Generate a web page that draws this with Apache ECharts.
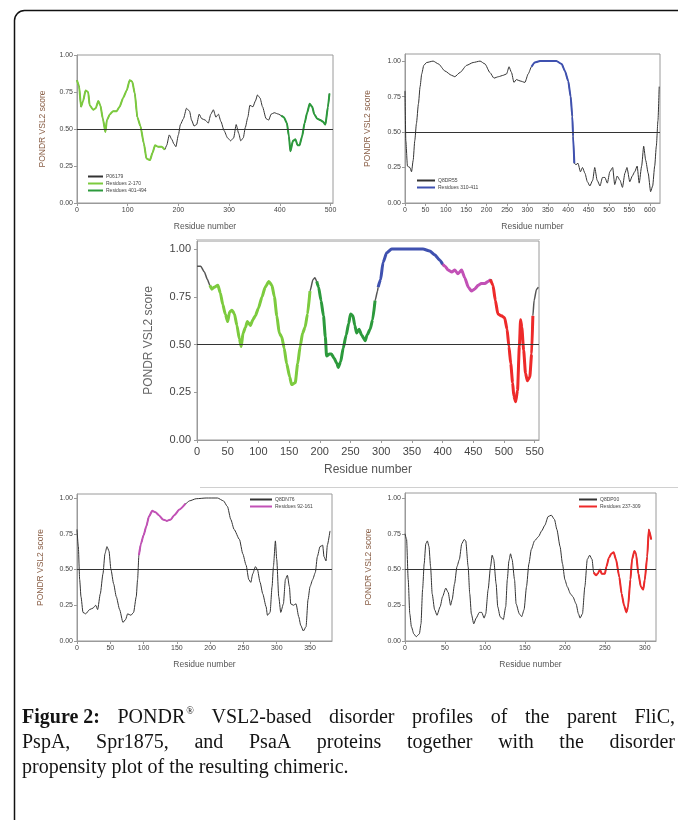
<!DOCTYPE html>
<html>
<head>
<meta charset="utf-8">
<script src="https://cdn.jsdelivr.net/npm/echarts@6/dist/echarts.min.js"></script>
<style>
  html, body { margin: 0; padding: 0; background: #fff; }
  #chart { width: 678px; height: 820px; }
</style>
</head>
<body>
<div id="chart"></div>
<script>
// tick values
const scoreTicks = [0, 0.25, 0.5, 0.75, 1];
const flicTicks = [0, 100, 200, 300, 400, 500];
const pspaTicks = [0, 50, 100, 150, 200, 250, 300, 350, 400, 450, 500, 550, 600];
const chimTicks = [0, 50, 100, 150, 200, 250, 300, 350, 400, 450, 500, 550];
const sprTicks = [0, 50, 100, 150, 200, 250, 300, 350];
const psaaTicks = [0, 50, 100, 150, 200, 250, 300];

// FliC (P06179) profile, [residue, score]
const flicScore = [[0,0.83],[4,0.79],[8,0.65],[12,0.69],[17,0.76],[22,0.75],[25,0.66],[32,0.63],[37,0.64],[42,0.69],[46,0.66],[51,0.57],[56,0.48],[59,0.56],[65,0.60],[71,0.62],[78,0.62],[84,0.65],[91,0.71],[98,0.76],[104,0.83],[109,0.82],[114,0.74],[119,0.58],[125,0.52],[132,0.40],[137,0.30],[144,0.29],[149,0.34],[154,0.39],[160,0.38],[167,0.38],[173,0.36],[177,0.39],[182,0.46],[187,0.43],[191,0.40],[195,0.38],[200,0.46],[204,0.53],[210,0.57],[216,0.64],[222,0.62],[226,0.56],[231,0.52],[236,0.53],[241,0.60],[246,0.57],[253,0.56],[259,0.54],[264,0.60],[269,0.63],[274,0.58],[279,0.60],[284,0.55],[290,0.49],[297,0.44],[303,0.42],[309,0.44],[314,0.53],[319,0.47],[323,0.42],[328,0.44],[332,0.51],[337,0.58],[341,0.66],[347,0.65],[352,0.69],[356,0.73],[361,0.71],[366,0.65],[373,0.57],[378,0.56],[383,0.60],[389,0.61],[398,0.60],[403,0.59],[408,0.58],[414,0.54],[418,0.45],[421,0.35],[426,0.42],[431,0.43],[435,0.39],[439,0.39],[444,0.45],[449,0.54],[454,0.61],[459,0.67],[464,0.65],[468,0.60],[474,0.57],[480,0.56],[485,0.55],[490,0.53],[495,0.65],[498,0.74]];
const flicNames = ['P06179', 'Residues 2-170', 'Residues 401-494'];
const flicRanges = [[0, 173], [403, 498]];

// PspA profile
const pspaScore = [[0,0.79],[2,0.44],[6,0.26],[12,0.25],[16,0.22],[20,0.30],[24,0.44],[28,0.56],[33,0.70],[37,0.82],[41,0.91],[46,0.97],[53,0.99],[69,1.00],[82,0.98],[98,0.93],[114,0.90],[122,0.89],[135,0.92],[151,0.97],[167,0.99],[184,1.00],[196,0.98],[208,0.92],[218,0.88],[229,0.89],[241,0.90],[249,0.91],[255,0.96],[261,0.92],[267,0.85],[273,0.87],[282,0.86],[294,0.85],[302,0.91],[310,0.96],[318,0.99],[331,1.00],[371,1.00],[384,0.98],[392,0.93],[400,0.86],[406,0.75],[410,0.61],[412,0.47],[415,0.28],[419,0.27],[424,0.28],[430,0.22],[435,0.25],[441,0.21],[447,0.15],[453,0.12],[460,0.16],[465,0.25],[471,0.16],[478,0.12],[484,0.18],[490,0.18],[496,0.14],[502,0.22],[509,0.25],[514,0.13],[520,0.19],[527,0.16],[533,0.11],[539,0.21],[544,0.25],[551,0.15],[557,0.19],[563,0.22],[569,0.26],[574,0.14],[580,0.26],[585,0.40],[590,0.30],[596,0.21],[602,0.08],[607,0.12],[612,0.26],[616,0.40],[620,0.58],[623,0.82]];
const pspaNames = ['Q8DR55', 'Residues 310-411'];
const pspaRanges = [[310, 415]];

// chimeric construct profile
const chimScore = [[0,0.91],[6,0.91],[12,0.88],[17,0.84],[21,0.81],[24,0.79],[28,0.80],[34,0.81],[38,0.77],[42,0.71],[46,0.66],[50,0.62],[53,0.67],[57,0.68],[61,0.66],[65,0.60],[69,0.53],[72,0.49],[75,0.56],[79,0.59],[82,0.62],[87,0.60],[91,0.63],[95,0.65],[100,0.69],[106,0.75],[111,0.80],[117,0.83],[122,0.81],[126,0.75],[130,0.65],[134,0.56],[138,0.54],[142,0.48],[146,0.40],[151,0.33],[154,0.29],[160,0.30],[164,0.40],[168,0.49],[172,0.56],[176,0.59],[180,0.66],[184,0.78],[189,0.84],[192,0.85],[195,0.83],[198,0.80],[202,0.73],[206,0.65],[209,0.54],[211,0.44],[216,0.45],[219,0.45],[223,0.43],[228,0.40],[230,0.38],[234,0.41],[238,0.48],[243,0.55],[247,0.61],[250,0.66],[254,0.65],[257,0.60],[260,0.56],[264,0.58],[268,0.55],[274,0.52],[277,0.55],[282,0.58],[286,0.63],[290,0.73],[294,0.78],[295,0.80],[299,0.84],[303,0.93],[309,0.98],[317,1.00],[325,1.00],[336,1.00],[368,1.00],[379,0.99],[387,0.97],[396,0.94],[400,0.92],[404,0.91],[409,0.89],[415,0.88],[420,0.89],[425,0.87],[431,0.89],[436,0.85],[442,0.80],[447,0.78],[452,0.79],[458,0.81],[463,0.82],[469,0.82],[474,0.83],[478,0.84],[482,0.81],[486,0.73],[490,0.66],[496,0.65],[501,0.64],[505,0.58],[508,0.49],[511,0.40],[514,0.30],[516,0.23],[519,0.20],[522,0.26],[525,0.49],[527,0.63],[529,0.59],[532,0.47],[535,0.35],[538,0.31],[542,0.33],[545,0.45],[547,0.65],[549,0.73],[553,0.79],[556,0.80]];
const chimRanges = [[21, 184], [195, 290], [295, 400], [400, 478], [478, 547]];

// Spr1875 profile
const sprScore = [[0,0.78],[2,0.66],[4,0.43],[6,0.31],[9,0.20],[13,0.19],[19,0.22],[24,0.23],[28,0.25],[31,0.22],[35,0.33],[39,0.47],[42,0.61],[45,0.66],[48,0.63],[51,0.50],[55,0.40],[59,0.31],[64,0.22],[69,0.13],[73,0.15],[76,0.19],[81,0.18],[85,0.20],[89,0.31],[91,0.43],[93,0.60],[96,0.68],[100,0.74],[104,0.80],[108,0.87],[113,0.91],[118,0.90],[123,0.88],[129,0.85],[135,0.84],[141,0.85],[146,0.88],[154,0.92],[163,0.96],[169,0.98],[179,0.995],[194,1.00],[211,1.00],[220,0.98],[226,0.94],[231,0.85],[236,0.78],[244,0.71],[249,0.61],[254,0.53],[258,0.43],[261,0.41],[264,0.47],[268,0.52],[271,0.50],[275,0.41],[279,0.33],[284,0.24],[286,0.18],[290,0.20],[293,0.38],[295,0.52],[298,0.70],[300,0.57],[303,0.31],[306,0.20],[310,0.26],[313,0.43],[316,0.46],[319,0.38],[321,0.26],[325,0.25],[329,0.26],[333,0.17],[336,0.11],[340,0.07],[344,0.10],[347,0.29],[350,0.38],[354,0.43],[358,0.48],[361,0.59],[365,0.66],[369,0.67],[371,0.59],[374,0.56],[376,0.67],[380,0.77]];
const sprNames = ['Q8DN76', 'Residues 92-161'];
const sprRanges = [[93, 163]];

// PsaA profile
const psaaScore = [[0,0.75],[2,0.71],[4,0.43],[6,0.19],[8,0.10],[11,0.05],[14,0.03],[18,0.05],[20,0.12],[22,0.36],[24,0.54],[26,0.68],[28,0.70],[30,0.66],[32,0.52],[34,0.33],[37,0.22],[40,0.18],[44,0.24],[47,0.31],[51,0.37],[54,0.34],[57,0.25],[59,0.29],[62,0.40],[65,0.52],[68,0.57],[71,0.68],[74,0.71],[76,0.70],[79,0.52],[81,0.33],[83,0.19],[86,0.12],[89,0.16],[93,0.20],[96,0.20],[99,0.16],[101,0.19],[104,0.36],[107,0.52],[109,0.60],[111,0.57],[114,0.40],[116,0.24],[119,0.17],[123,0.15],[126,0.24],[128,0.43],[130,0.56],[132,0.61],[134,0.57],[137,0.43],[139,0.26],[143,0.19],[146,0.17],[149,0.22],[152,0.38],[155,0.54],[158,0.64],[162,0.70],[167,0.73],[171,0.77],[175,0.81],[179,0.87],[183,0.88],[187,0.85],[190,0.78],[194,0.66],[197,0.54],[200,0.43],[203,0.38],[207,0.33],[210,0.31],[214,0.26],[217,0.19],[219,0.16],[222,0.19],[225,0.38],[228,0.57],[231,0.60],[234,0.57],[236,0.48],[239,0.46],[241,0.47],[244,0.50],[246,0.47],[250,0.47],[252,0.52],[255,0.58],[258,0.61],[261,0.62],[264,0.57],[268,0.45],[271,0.33],[274,0.25],[277,0.20],[279,0.24],[282,0.43],[284,0.57],[287,0.63],[289,0.61],[292,0.47],[295,0.38],[298,0.36],[300,0.43],[303,0.59],[305,0.78],[308,0.71]];
const psaaNames = ['Q8DP00', 'Residues 237-309'];
const psaaRanges = [[236, 309]];

// caption words; the first entry of line one is kept together
const captionLines = [
  ['Figure 2:', 'PONDR®', 'VSL2-based', 'disorder', 'profiles', 'of', 'the', 'parent', 'FliC,'],
  ['PspA,', 'Spr1875,', 'and', 'PsaA', 'proteins', 'together', 'with', 'the', 'disorder'],
  ['propensity', 'plot', 'of', 'the', 'resulting', 'chimeric.']
];

const LIGHT_GREEN = '#7ccb3e';
const DARK_GREEN = '#2c9a3c';
const BLUE = '#3f51b0';
const MAGENTA = '#c251b6';
const RED = '#ee2a2a';
const BASE = '#333333';

const chart = echarts.init(document.getElementById('chart'));

const grids = [];
const xAxes = [];
const yAxes = [];
const series = [];
const legends = [];

function inRange(data, r) {
    return data.filter(p => p[0] >= r[0] && p[0] <= r[1]);
}

// one plot: grid + axes + base line + coloured parts
function addPanel(p) {
    const idx = grids.length;
    const big = !!p.big;
    const tickSize = big ? 11 : 7;
    const nameSize = big ? 12 : 8.5;
    grids.push({
        left: p.left, top: p.top, width: p.width, height: p.height,
        show: true, borderColor: '#9a9a9a', borderWidth: 1
    });
    xAxes.push({
        type: 'value', gridIndex: idx, min: 0, max: p.xMax,
        name: 'Residue number', nameLocation: 'middle', nameGap: p.xGap,
        nameTextStyle: { fontSize: nameSize, color: '#555' },
        axisLine: { show: true, onZero: false, lineStyle: { color: '#9a9a9a' } },
        axisTick: { show: true, length: 3, customValues: p.xTicks, lineStyle: { color: '#9a9a9a' } },
        axisLabel: { customValues: p.xTicks, fontSize: tickSize, color: '#444', margin: big ? 6 : 4 },
        splitLine: { show: false }
    });
    yAxes.push({
        type: 'value', gridIndex: idx, min: 0, max: p.yMax,
        name: 'PONDR VSL2 score', nameLocation: 'middle', nameGap: p.yGap,
        nameTextStyle: { fontSize: nameSize, color: big ? '#666' : '#8a6048' },
        axisLine: { show: true, lineStyle: { color: '#9a9a9a' } },
        axisTick: { show: true, length: 3, customValues: scoreTicks, lineStyle: { color: '#9a9a9a' } },
        axisLabel: {
            customValues: scoreTicks, fontSize: tickSize, color: '#444', margin: big ? 6 : 4,
            formatter: v => v.toFixed(2)
        },
        splitLine: { show: false }
    });
    series.push({
        type: 'line', name: p.names[0], xAxisIndex: idx, yAxisIndex: idx,
        data: p.data, showSymbol: false, smooth: 0.2, smoothMonotone: 'x',
        lineStyle: { color: big ? '#555' : BASE, width: big ? 1.5 : 1 }, itemStyle: { color: BASE },
        z: 2,
        markLine: {
            silent: true, symbol: 'none', label: { show: false },
            lineStyle: { color: '#333', width: 1, type: 'solid' },
            data: [{ yAxis: 0.5 }]
        }
    });
    p.ranges.forEach((r, i) => {
        series.push({
            type: 'line', name: p.names[i + 1] || ('part' + idx + '_' + i),
            xAxisIndex: idx, yAxisIndex: idx,
            data: inRange(p.data, r), showSymbol: false, smooth: 0.2, smoothMonotone: 'x',
            lineStyle: { color: p.colors[i], width: big ? 3 : 2 }, itemStyle: { color: p.colors[i] },
            z: 3
        });
    });
    if (p.legend) {
        legends.push({
            data: p.names, orient: 'vertical', left: p.legend[0], top: p.legend[1],
            padding: 0, itemGap: 2, itemWidth: p.legend[2], itemHeight: 2, icon: 'rect',
            selectedMode: false,
            textStyle: { fontSize: 5, color: '#444', padding: [0, 0, 0, -2] }
        });
    }
}

addPanel({ left: 77, top: 55, width: 256, height: 148, xMax: 505, yMax: 1.0,
    xTicks: flicTicks, xGap: 19, yGap: 30, data: flicScore, names: flicNames,
    ranges: flicRanges, colors: [LIGHT_GREEN, DARK_GREEN], legend: [88, 174, 15] });
addPanel({ left: 405, top: 54, width: 255, height: 149, xMax: 625, yMax: 1.05,
    xTicks: pspaTicks, xGap: 19, yGap: 33, data: pspaScore, names: pspaNames,
    ranges: pspaRanges, colors: [BLUE], legend: [417, 178, 18] });
addPanel({ left: 197, top: 241, width: 342, height: 199, xMax: 557, yMax: 1.042, big: true,
    xTicks: chimTicks, xGap: 24, yGap: 42, data: chimScore, names: ['Chimeric'],
    ranges: chimRanges, colors: [LIGHT_GREEN, DARK_GREEN, BLUE, MAGENTA, RED] });
addPanel({ left: 77, top: 494, width: 255, height: 147, xMax: 383, yMax: 1.028,
    xTicks: sprTicks, xGap: 19, yGap: 32, data: sprScore, names: sprNames,
    ranges: sprRanges, colors: [MAGENTA], legend: [250, 497, 22] });
addPanel({ left: 405, top: 493, width: 251, height: 148, xMax: 314, yMax: 1.035,
    xTicks: psaaTicks, xGap: 19, yGap: 32, data: psaaScore, names: psaaNames,
    ranges: psaaRanges, colors: [RED], legend: [579, 497, 18] });

// caption, justified word by word
function captionGraphics() {
    const ctx = document.createElement('canvas').getContext('2d');
    const reg = '20px "Liberation Serif"';
    const bold = 'bold 20px "Liberation Serif"';
    const sup = '10px "Liberation Serif"';
    const left = 22, right = 675, y0 = 718, step = 25;
    const out = [];
    captionLines.forEach((words, li) => {
        const toks = words.map((w, wi) => {
            const t = { main: w.replace('®', ''), sup: w.includes('®') ? '®' : '',
                        font: (li === 0 && wi === 0) ? bold : reg };
            ctx.font = t.font;
            t.w = ctx.measureText(t.main).width;
            if (t.sup) { ctx.font = sup; t.w += ctx.measureText(t.sup).width + 1; }
            return t;
        });
        const total = toks.reduce((s, t) => s + t.w, 0);
        ctx.font = reg;
        const gap = li < captionLines.length - 1
            ? (right - left - total) / (toks.length - 1)
            : ctx.measureText(' ').width;
        let x = left;
        const y = y0 + li * step;
        toks.forEach(t => {
            out.push({ type: 'text', x: x, y: y, silent: true,
                style: { text: t.main, font: t.font, fill: '#141414', textVerticalAlign: 'middle' } });
            if (t.sup) {
                ctx.font = t.font;
                out.push({ type: 'text', x: x + ctx.measureText(t.main).width + 1, y: y - 7, silent: true,
                    style: { text: t.sup, font: sup, fill: '#141414', textVerticalAlign: 'middle' } });
            }
            x += t.w + gap;
        });
    });
    return out;
}

const graphics = [
    { type: 'rect', silent: true, shape: { x: 14.5, y: 10.5, width: 720, height: 860, r: 10 },
      style: { fill: 'none', stroke: '#111', lineWidth: 1.5 } },
    { type: 'line', silent: true, shape: { x1: 196, y1: 239.5, x2: 540, y2: 239.5 },
      style: { stroke: '#d0d0d0', lineWidth: 1 } },
    { type: 'line', silent: true, shape: { x1: 200, y1: 487.5, x2: 678, y2: 487.5 },
      style: { stroke: '#d0d0d0', lineWidth: 1 } }
].concat(captionGraphics());

chart.setOption({
    animation: false,
    textStyle: { fontFamily: '"Liberation Sans", Arial, sans-serif' },
    grid: grids,
    xAxis: xAxes,
    yAxis: yAxes,
    legend: legends,
    series: series,
    graphic: { elements: graphics }
});
</script>
</body>
</html>
